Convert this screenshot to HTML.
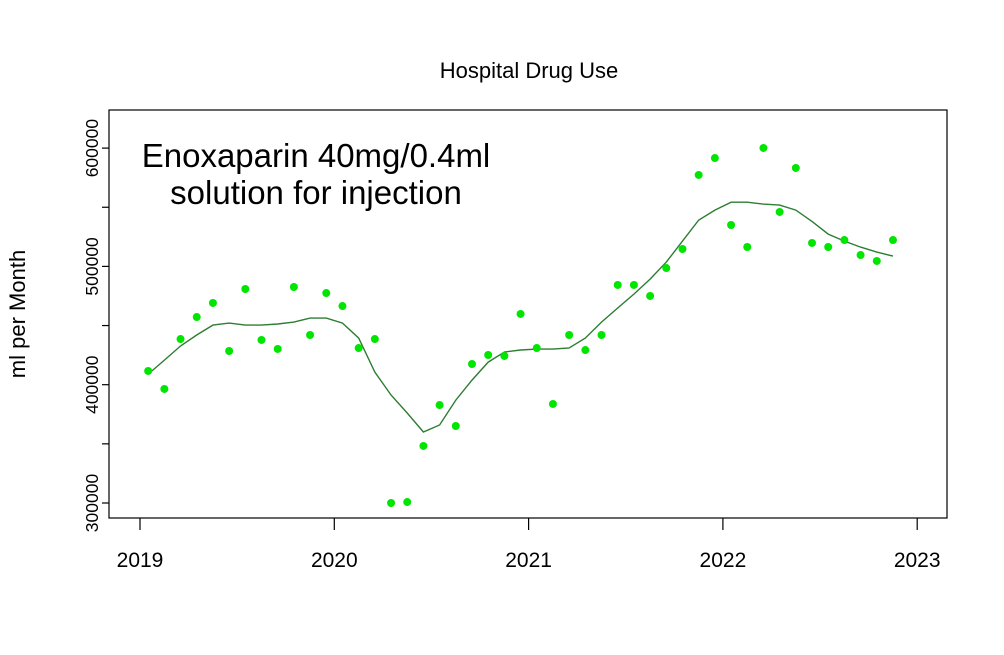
<!DOCTYPE html>
<html><head><meta charset="utf-8"><style>
html,body{margin:0;padding:0;background:#fff;}
svg{display:block;font-family:"Liberation Sans",Arial,sans-serif;}
</style></head><body>
<svg id="chart" width="1004" height="655" viewBox="0 0 1004 655">
<text x="529" y="78" font-size="22" text-anchor="middle">Hospital Drug Use</text>
<text x="25" y="314" font-size="22" text-anchor="middle" transform="rotate(-90 25 314)">ml per Month</text>
<rect x="109" y="110" width="838" height="408" fill="none" stroke="#000" stroke-width="1.2"/>
<text x="316" y="167" font-size="33" text-anchor="middle">Enoxaparin 40mg/0.4ml</text>
<text x="316" y="204" font-size="33" text-anchor="middle">solution for injection</text>
<g id="axes"></g>
<g id="marks"></g>
</svg>
<script>
const yTicks=[300000,350000,400000,450000,500000,550000,600000];
const yTickLabels=["300000","","400000","","500000","","600000"];
const xTicks=[2019,2020,2021,2022,2023];
const xTickLabels=["2019","2020","2021","2022","2023"];
const usage=[411600,396400,438600,457200,469100,428500,480900,437800,430200,482600,442000,477500,
466500,431000,438600,300000,300800,348200,382800,365100,417500,425100,424300,459800,
431000,383700,442000,429300,442000,484300,484300,475000,498600,514700,577300,591600,
535000,516400,600100,546000,583200,519800,516400,522300,509600,504600,522300];
const trend=[409000,420800,432700,442000,450400,452100,450400,450400,451300,452900,456300,456300,
452100,439400,410700,391300,376100,360000,365900,387000,403900,419100,427600,429300,
430100,430100,431000,439400,452900,464800,476600,489300,503600,521400,539100,547600,
554300,554300,552700,551800,547600,538000,527300,521400,516300,512100,508700];
const startYear=2019, startMonthOffset=0.042;
const NS="http://www.w3.org/2000/svg";
function X(t){return 140+(t-2019)*194.3;}
function Y(v){return 503-(v-300000)/100000*118.3;}
function mk(tag,attrs,parent){const e=document.createElementNS(NS,tag);for(const k in attrs)e.setAttribute(k,attrs[k]);parent.appendChild(e);return e;}
const ax=document.getElementById('axes'), mg=document.getElementById('marks');
yTicks.forEach((v,i)=>{
  const l=mk('line',{x1:102,x2:109,y1:Y(v),y2:Y(v),stroke:'#000','stroke-width':1.2},ax);
  
  
  if(yTickLabels[i]){
    const t=mk('text',{x:98,y:Y(v),'font-size':17.5,'text-anchor':'middle',transform:`rotate(-90 98 ${Y(v)})`},ax);
    t.textContent=yTickLabels[i];
    
    
  }
});
xTicks.forEach((v,i)=>{
  const l=mk('line',{x1:X(v),x2:X(v),y1:518,y2:530,stroke:'#000','stroke-width':1.2},ax);
  
  
  const t=mk('text',{x:X(v),y:567,'font-size':21,'text-anchor':'middle'},ax);
  t.textContent=xTickLabels[i];
  
  
});
function tAt(i){return startYear+startMonthOffset+i/12;}
const pts=trend.map((v,i)=>X(tAt(i)).toFixed(1)+','+Y(v).toFixed(1)).join(' ');
const pl=mk('polyline',{points:pts,fill:'none',stroke:'#2e7d32','stroke-width':1.4},mg);


usage.forEach((v,i)=>{
  const c=mk('circle',{cx:X(tAt(i)),cy:Y(v),r:4,fill:'#00e600'},mg);
  
  
});
</script>
</body></html>
